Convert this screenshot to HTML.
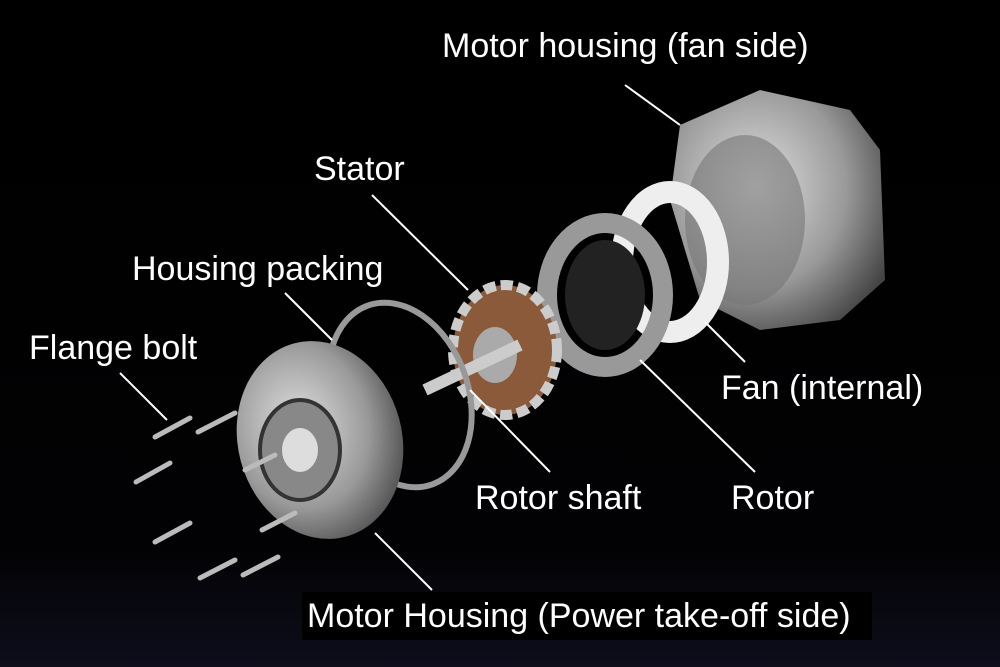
<!DOCTYPE html>
<html><head><meta charset="utf-8"><style>
html,body{margin:0;padding:0;background:#000;}
svg{display:block}
text{font-family:"Liberation Sans",sans-serif;fill:#fff;font-size:34px}
</style></head><body>
<svg width="1000" height="667" viewBox="0 0 1000 667">
<defs>
<linearGradient id="bg" x1="0" y1="0" x2="0" y2="1">
<stop offset="0" stop-color="#000"/><stop offset="0.82" stop-color="#020204"/><stop offset="1" stop-color="#0e0e1c"/>
</linearGradient>
<radialGradient id="al" cx="0.4" cy="0.4" r="0.7">
<stop offset="0" stop-color="#e0e0e0"/><stop offset="0.6" stop-color="#999"/><stop offset="1" stop-color="#444"/>
</radialGradient>
</defs>
<rect width="1000" height="667" fill="url(#bg)"/>
<path d="M680 125 L760 90 L850 110 L880 150 L885 280 L840 320 L760 330 L700 300 L670 200 Z" fill="url(#al)"/>
<ellipse cx="745" cy="220" rx="60" ry="85" fill="#777" opacity="0.6"/>
<ellipse cx="670" cy="262" rx="48" ry="70" fill="none" stroke="#eee" stroke-width="22"/>
<ellipse cx="605" cy="295" rx="58" ry="72" fill="none" stroke="#999" stroke-width="20"/>
<ellipse cx="605" cy="295" rx="40" ry="55" fill="#222"/>
<ellipse cx="505" cy="350" rx="52" ry="65" fill="#8a5a3a"/>
<ellipse cx="505" cy="350" rx="52" ry="65" fill="none" stroke="#ccc" stroke-width="10" stroke-dasharray="12 5"/>
<ellipse cx="495" cy="355" rx="22" ry="28" fill="#aaa"/>
<line x1="425" y1="390" x2="520" y2="345" stroke="#ccc" stroke-width="12"/>
<ellipse cx="400" cy="395" rx="68" ry="95" transform="rotate(-20 400 395)" fill="none" stroke="#999" stroke-width="6"/>
<ellipse cx="320" cy="440" rx="82" ry="100" transform="rotate(-15 320 440)" fill="url(#al)"/>
<ellipse cx="300" cy="450" rx="40" ry="50" fill="#888" stroke="#333" stroke-width="4"/>
<ellipse cx="300" cy="450" rx="18" ry="22" fill="#ddd"/>
<g stroke="#bbb" stroke-width="5" stroke-linecap="round">
<line x1="155" y1="437" x2="190" y2="418"/><line x1="198" y1="432" x2="235" y2="413"/>
<line x1="136" y1="482" x2="170" y2="463"/><line x1="155" y1="542" x2="190" y2="523"/>
<line x1="200" y1="578" x2="235" y2="560"/><line x1="243" y1="575" x2="278" y2="557"/>
<line x1="245" y1="470" x2="275" y2="455"/><line x1="262" y1="530" x2="295" y2="513"/>
</g>
<g stroke="#fff" stroke-width="2">
<line x1="625" y1="85" x2="680" y2="125"/>
<line x1="372" y1="195" x2="468" y2="290"/>
<line x1="285" y1="293" x2="332" y2="340"/>
<line x1="120" y1="373" x2="167" y2="420"/>
<line x1="745" y1="362" x2="705" y2="322"/>
<line x1="470" y1="390" x2="550" y2="472"/>
<line x1="640" y1="360" x2="755" y2="472"/>
<line x1="375" y1="533" x2="432" y2="590"/>
</g>
<text x="442" y="57">Motor housing (fan side)</text>
<text x="314" y="180">Stator</text>
<text x="132" y="280">Housing packing</text>
<text x="29" y="359">Flange bolt</text>
<text x="721" y="399">Fan (internal)</text>
<text x="475" y="509">Rotor shaft</text>
<text x="731" y="509">Rotor</text>
<rect x="302" y="592" width="570" height="48" fill="#000"/>
<text x="307" y="627">Motor Housing (Power take-off side)</text>
</svg>
</body></html>
